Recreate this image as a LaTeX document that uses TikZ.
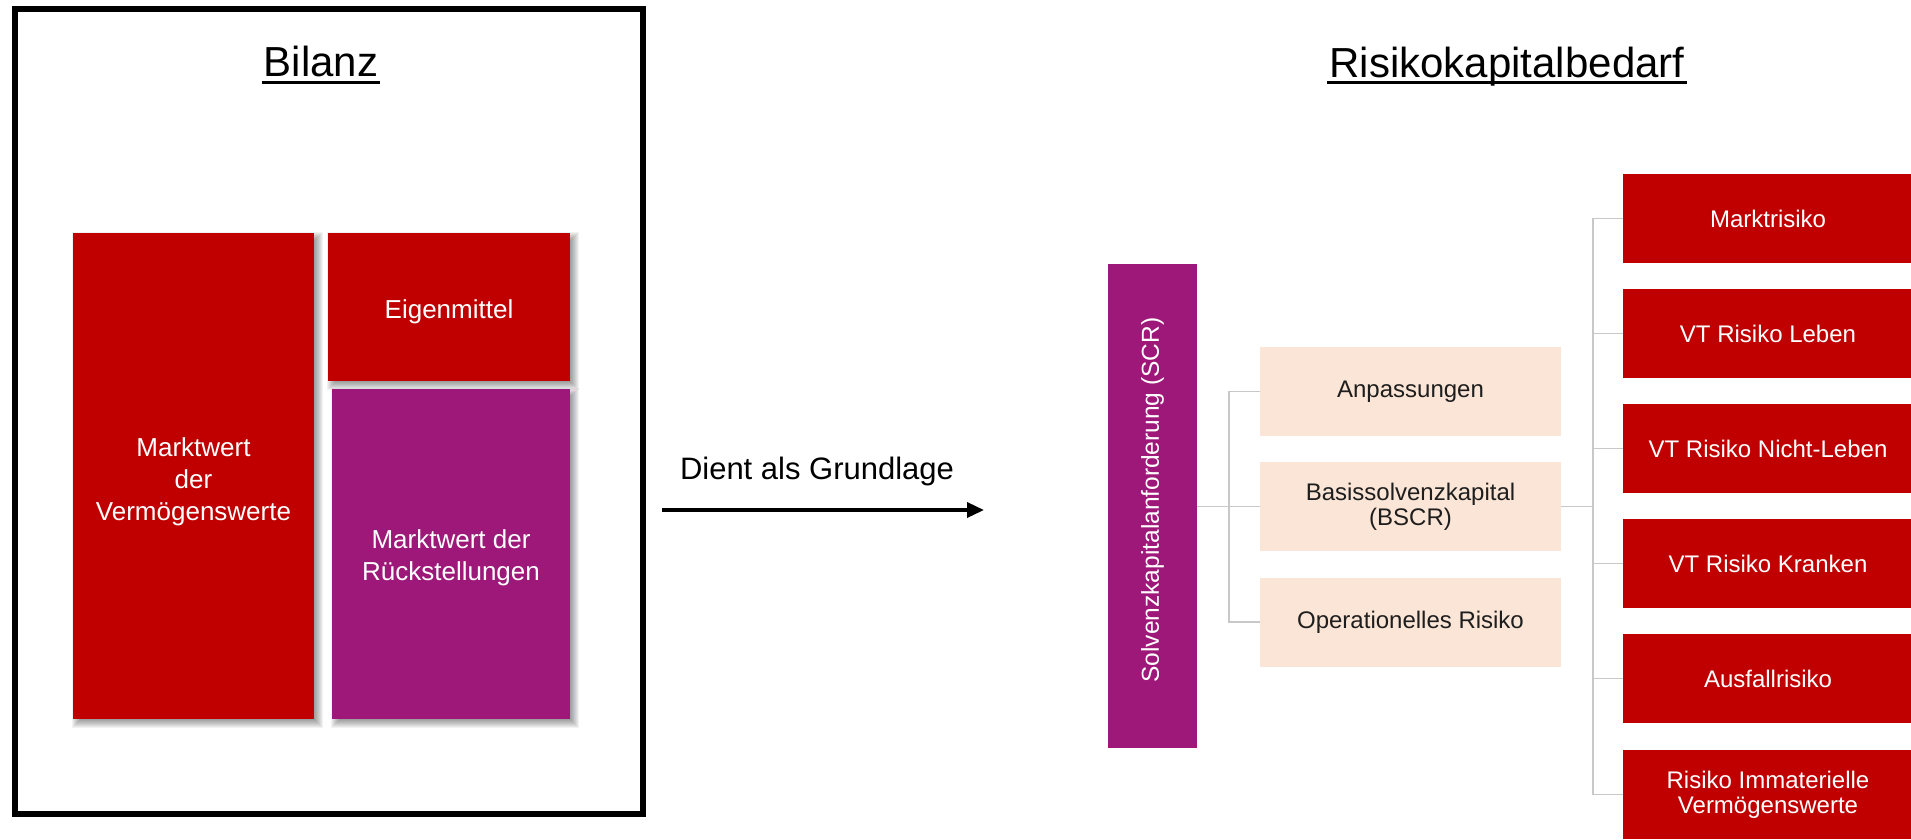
\documentclass[tikz,border=0pt]{standalone}
\usepackage{fontspec}
\setmainfont{Liberation Sans}
\usetikzlibrary{arrows.meta,calc,backgrounds}

\definecolor{bred}{RGB}{192,0,0}
\definecolor{bpurple}{RGB}{157,24,120}
\definecolor{bpeach}{RGB}{251,229,214}
\definecolor{conngray}{RGB}{200,200,200}
\definecolor{darktext}{RGB}{30,30,30}

\begin{document}
\begin{tikzpicture}[x=1pt,y=-1pt,
  title/.style={anchor=base, inner sep=0pt, font=\fontsize{42}{46}\selectfont},
  underl/.style={line width=3pt},
  sheetbox/.style={draw=none, inner sep=0pt},
  sheettext/.style={inner sep=0pt, align=center, text=white,
    font=\fontsize{26}{32}\selectfont},
  peachbox/.style={fill=bpeach, draw=none, minimum width=301, minimum height=89,
    align=center, text=darktext, font=\fontsize{24}{25}\selectfont},
  riskbox/.style={fill=bred, draw=none, minimum width=290, minimum height=89,
    align=center, text=white, font=\fontsize{24}{25}\selectfont},
  conn/.style={draw=conngray, line width=1.3pt},
]
\useasboundingbox (0,0) rectangle (1911,839);

% ---------- balance sheet ----------
\draw[line width=6pt] (15,9) rectangle (643,814);
\node[title] (bilanz) at (321,76) {Bilanz};
\draw[underl] ([xshift=-2pt,yshift=-6pt]bilanz.base west) -- ([xshift=2pt,yshift=-6pt]bilanz.base east);

\node[sheetbox, fill=bred, minimum width=241, minimum height=486] (mv) at (193.5,476) {};
\node[sheetbox, fill=bred, minimum width=242, minimum height=148] (em) at (449,307) {};
\node[sheetbox, fill=bpurple, minimum width=238, minimum height=330] (mr) at (451,554) {};

\node[sheettext] (mvt) at ([yshift=-6pt]mv.center) {Marktwert\\der\\Vermögenswerte};
\node[sheettext] (emt) at ([yshift=-5pt]em.center) {Eigenmittel};
\node[sheettext] (mrt) at ([yshift=-4pt]mr.center) {Marktwert der\\Rückstellungen};

% soft drop shadows of the balance sheet blocks
\begin{scope}[on background layer]
  \foreach \b in {mv,em,mr}{
    \foreach \e in {-3,...,5}{
      \fill[black,opacity=0.05]
        ($(\b.north west)+(4-\e,4-\e)$) rectangle ($(\b.south east)+(4+\e,4+\e)$);
    }
  }
\end{scope}

% ---------- arrow ----------
\node[anchor=base, inner sep=0pt, font=\fontsize{31}{34}\selectfont] (dient) at (817,479)
  {Dient als Grundlage};
\coordinate (arrA) at (662,510);
\coordinate (arrB) at (984,510);
\draw[line width=3.5pt, -{Triangle[length=17pt,width=15pt]}] (arrA) -- (arrB);

% ---------- capital requirement ----------
\node[title] (rkb) at (1507,77) {Risikokapitalbedarf};
\draw[underl] ([xshift=-2pt,yshift=-5pt]rkb.base west) -- ([xshift=2pt,yshift=-5pt]rkb.base east);

\node[fill=bpurple, minimum width=89, minimum height=484, inner sep=0pt] (scr) at (1152.5,506) {};
\node[rotate=90, text=white, font=\fontsize{24.5}{26}\selectfont, inner sep=0pt] (scrtext) at ([yshift=6pt]scr.center)
  {Solvenzkapitalanforderung (SCR)};

\node[peachbox] (anp) at (1410.5,391.5) {Anpassungen};
\node[peachbox] (bas) at (1410.5,506.5) {Basissolvenzkapital\\(BSCR)};
\node[peachbox] (op)  at (1410.5,622)   {Operationelles Risiko};

\node[riskbox] (r1) at (1768,218.5) {Marktrisiko};
\node[riskbox] (r2) at (1768,333.5) {VT Risiko Leben};
\node[riskbox] (r3) at (1768,448.5) {VT Risiko Nicht-Leben};
\node[riskbox] (r4) at (1768,563.5) {VT Risiko Kranken};
\node[riskbox] (r5) at (1768,678.5) {Ausfallrisiko};
\node[riskbox] (r6) at (1768,794.5) {Risiko Immaterielle\\Vermögenswerte};

% connectors
\coordinate (j1) at (1229,506.5);
\coordinate (j2) at (1593,506.5);
\draw[conn] (scr.east |- bas.west) -- (bas.west);
\draw[conn] (anp.west) -- (anp.west -| j1) -- (op.west -| j1) -- (op.west);
\draw[conn] (bas.east) -- (j2);
\draw[conn] (r1.west) -- (r1.west -| j2) -- (r6.west -| j2) -- (r6.west);
\foreach \r in {r2,r3,r4,r5}{
  \draw[conn] (\r.west -| j2) -- (\r.west);
}
\end{tikzpicture}
\end{document}
